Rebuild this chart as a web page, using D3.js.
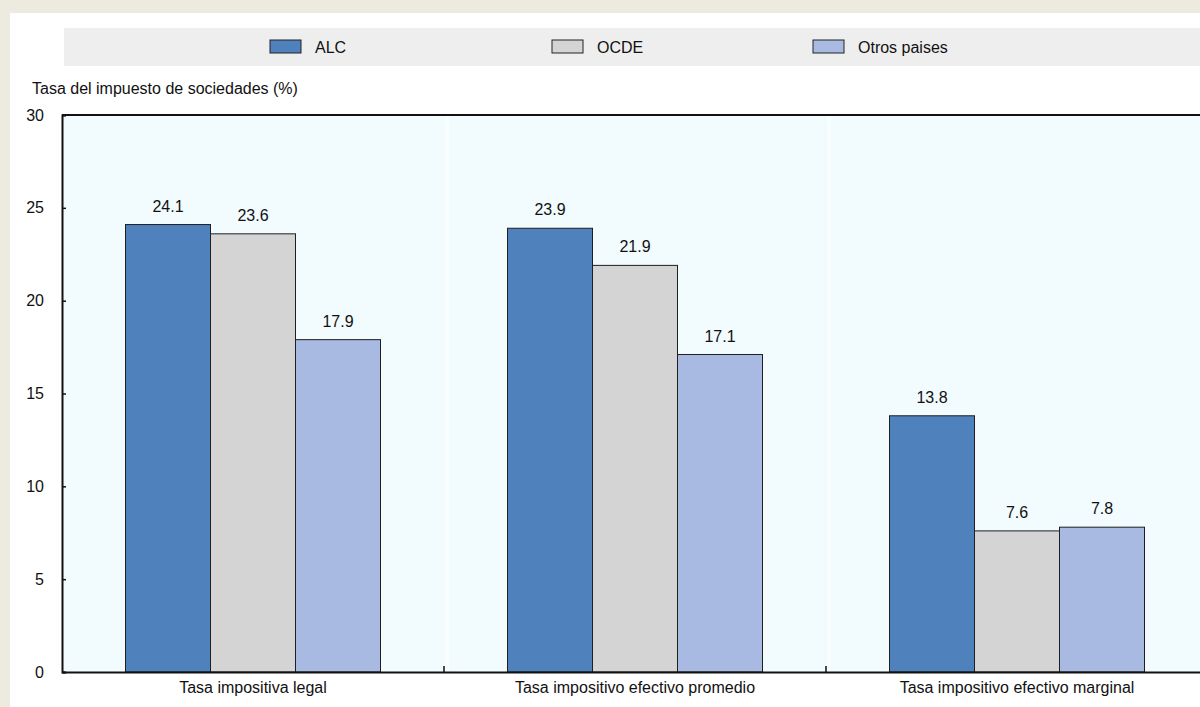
<!DOCTYPE html>
<html><head><meta charset="utf-8">
<script src="https://cdn.jsdelivr.net/npm/d3@7"></script>
<style>
html,body{margin:0;padding:0;background:#EDEAE0;}
svg{display:block;font-family:"Liberation Sans",Arial,sans-serif;}
</style></head><body>
<svg id="c" width="1200" height="707"></svg>
<script>
const categories = ["Tasa impositiva legal","Tasa impositivo efectivo promedio","Tasa impositivo efectivo marginal"];
const seriesNames = ["ALC","OCDE","Otros paises"];
const alcValues = [24.1, 23.9, 13.8];
const ocdeValues = [23.6, 21.9, 7.6];
const otrosValues = [17.9, 17.1, 7.8];
const yTicks = [0,5,10,15,20,25,30];
const colors = ["#4F81BD","#D4D4D4","#A8BAE2"];
const seriesValues = [alcValues, ocdeValues, otrosValues];

(function(){
const FS = 16;
const svg = d3.select("#c");
svg.append("rect").attr("x",10).attr("y",13).attr("width",1190).attr("height",694).attr("fill","#FFFFFF");
svg.append("rect").attr("x",64).attr("y",28).attr("width",1136).attr("height",38).attr("fill","#EEEEEE");

const pL=62, pR=1208, pT=115, pB=672;
const x0 = d3.scaleBand().domain(categories).range([pL,pR]).paddingInner(0).paddingOuter(0);
const y = d3.scaleLinear().domain([0,30]).range([pB,pT]);
const barW = 85;
const x1 = d3.scaleBand().domain(seriesNames).range([0,barW*3]);

svg.append("rect").attr("x",pL).attr("y",pT).attr("width",pR-pL).attr("height",pB-pT).attr("fill","#F2FBFD");
categories.slice(1).forEach(c=>{
  svg.append("line").attr("x1",x0(c)+3).attr("x2",x0(c)+3).attr("y1",pT).attr("y2",pB).attr("stroke","#F8FDFE").attr("stroke-width",4);
});

const g = svg.append("g");
categories.forEach((c,ci)=>{
  const gx = x0(c) + (x0.bandwidth()-barW*3)/2;
  seriesNames.forEach((s,si)=>{
    const v = seriesValues[si][ci];
    g.append("rect").attr("x",gx+x1(s)).attr("y",y(v)).attr("width",x1.bandwidth()).attr("height",y(0)-y(v))
      .attr("fill",colors[si]).attr("stroke","#1F1F1F").attr("stroke-width",1);
    g.append("text").attr("x",gx+x1(s)+x1.bandwidth()/2).attr("y",y(v)-13).attr("text-anchor","middle")
      .attr("font-size",FS).attr("fill","#111").text(v.toFixed(1));
  });
});

svg.append("line").attr("x1",pL).attr("x2",1200).attr("y1",pT).attr("y2",pT).attr("stroke","#111").attr("stroke-width",2);

const yAxis = d3.axisLeft(y).tickValues(yTicks).tickSize(-4).tickPadding(18);
const ya = svg.append("g").attr("transform",`translate(${pL},0)`).call(yAxis);
ya.select(".domain").attr("stroke","#111").attr("stroke-width",2);
ya.selectAll(".tick line").attr("stroke","#111").attr("stroke-width",1.5);
ya.selectAll(".tick text").attr("font-size",FS).attr("fill","#111").attr("font-family","Liberation Sans, Arial, sans-serif");

const xa = svg.append("g").attr("transform",`translate(0,${pB})`).call(d3.axisBottom(x0).tickSize(0).tickPadding(10));
xa.select(".domain").attr("stroke","#111").attr("stroke-width",2);
xa.selectAll(".tick text").attr("font-size",FS).attr("fill","#111").attr("font-family","Liberation Sans, Arial, sans-serif");
categories.slice(1).forEach(c=>{
  svg.append("line").attr("x1",x0(c)).attr("x2",x0(c)).attr("y1",pB).attr("y2",pB-6).attr("stroke","#111").attr("stroke-width",1.5);
});

svg.append("text").attr("x",32).attr("y",94).attr("font-size",FS).attr("fill","#111").text("Tasa del impuesto de sociedades (%)");

const legX = [270, 552, 813];
seriesNames.forEach((s,i)=>{
  svg.append("rect").attr("x",legX[i]).attr("y",40).attr("width",31).attr("height",13).attr("fill",colors[i]).attr("stroke","#222").attr("stroke-width",1);
  svg.append("text").attr("x",legX[i]+45).attr("y",53).attr("font-size",FS).attr("fill","#111").text(s);
});
})();
</script>
</body></html>
